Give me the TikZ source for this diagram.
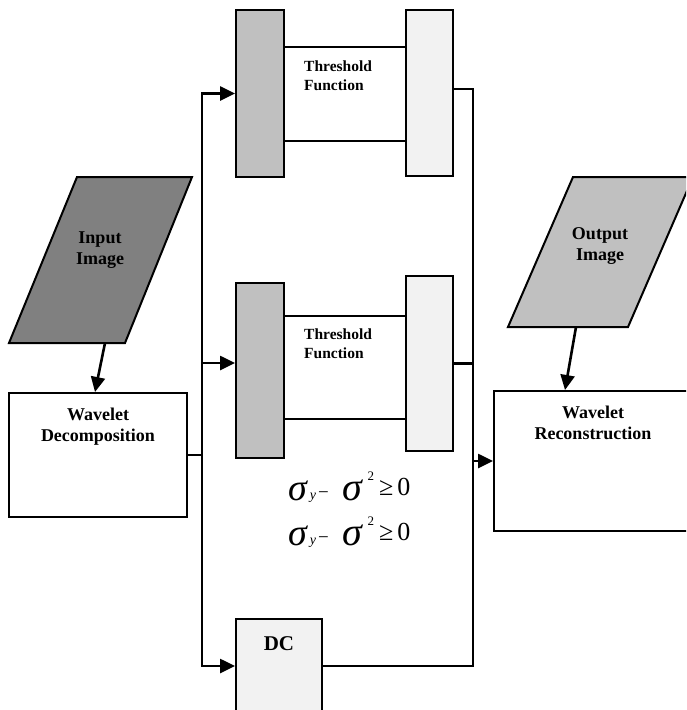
\documentclass[tikz,border=0pt]{standalone}
\usepackage{fontspec}
\setmainfont{Liberation Serif}
\usetikzlibrary{shapes, arrows.meta, positioning, calc}
\definecolor{InGray}{HTML}{808080}
\definecolor{MidGray}{HTML}{C0C0C0}
\definecolor{PaleGray}{HTML}{F2F2F2}
\newcommand{\bigfont}{\bfseries\fontsize{18}{21}\selectfont}
\newcommand{\smallfont}{\bfseries\fontsize{15.5}{19}\selectfont}
\newcommand{\sigcond}{%
  \raisebox{-5pt}{\itshape\fontsize{38}{38}\selectfont σ}\hspace{3pt}%
  \raisebox{-4pt}{\itshape\fontsize{14}{14}\selectfont y}\hspace{2pt}%
  \raisebox{-3pt}{\fontsize{19}{19}\selectfont −}\hspace{14pt}%
  \raisebox{-5pt}{\itshape\fontsize{40}{40}\selectfont σ}\hspace{5pt}%
  \raisebox{15pt}{\fontsize{13}{13}\selectfont 2}\hspace{5pt}%
  {\fontsize{26}{26}\selectfont ≥\hspace{4pt}0}}

\begin{document}
\begin{tikzpicture}[x=1pt, y=-1pt,
  box/.style={rectangle, draw, line width=2pt, inner sep=0pt, fill=white},
  slanted/.style={draw, line width=2pt},
  imgtxt/.style={font=\bigfont, align=center, inner sep=0pt},
  toptxt/.style={anchor=north, yshift=-16pt, inner sep=0pt, align=center, font=\bigfont},
  thtxt/.style={anchor=north west, xshift=21pt, yshift=-15pt, inner sep=0pt, align=left, font=\smallfont},
  link/.style={line width=2.6pt},
  arr/.style={line width=2.6pt, -{Triangle[length=15pt, width=14pt]}},
  ]
  \useasboundingbox (0,0) rectangle (686,710);
  \clip (0,0) rectangle (686,710);

  % input side
  \path[slanted, fill=InGray] (9,343) -- (77,177) -- (192,177) -- (125,343) -- cycle;
  \node (inimg) [imgtxt] at (100,250) {Input\\Image};
  \coordinate (inbot) at (105,343);
  \node (wdec) [box, minimum width=178pt, minimum height=124pt,
    label={[toptxt]north:Wavelet\\Decomposition}] at (98,455) {};

  % upper threshold branch
  \node (tl1) [box, fill=MidGray, minimum width=48pt, minimum height=167pt] at (260,93.5) {};
  \node (tm1) [box, minimum width=122pt, minimum height=94pt,
    label={[thtxt]north west:Threshold\\Function}] at (345,94) {};
  \node (tr1) [box, fill=PaleGray, minimum width=47pt, minimum height=166pt] at (429.5,93) {};

  % lower threshold branch
  \node (tl2) [box, fill=MidGray, minimum width=48pt, minimum height=175pt] at (260,370.5) {};
  \node (tm2) [box, minimum width=122pt, minimum height=103pt,
    label={[thtxt, yshift=1pt]north west:Threshold\\Function}] at (345,367.5) {};
  \node (tr2) [box, fill=PaleGray, minimum width=47pt, minimum height=175pt] at (429.5,363.5) {};

  \node (cond1) [anchor=base west, inner sep=0pt] at (288,495) {\sigcond};
  \node (cond2) [anchor=base west, inner sep=0pt] at (288,540) {\sigcond};

  \node (dc) [box, fill=PaleGray, minimum width=86pt, minimum height=94pt,
    label={[toptxt, yshift=-2pt, font=\bfseries\fontsize{21}{24}\selectfont]north:DC}] at (279,666) {};

  % output side
  \path[slanted, fill=MidGray] (508,327) -- (573,177) -- (693,177) -- (628,327) -- cycle;
  \node (outimg) [imgtxt] at (600,246) {Output\\Image};
  \coordinate (outbot) at (576,327);
  \node (wrec) [box, minimum width=198pt, minimum height=140pt,
    label={[toptxt]north:Wavelet\\Reconstruction}] at (593,461) {};

  \coordinate (split) at (202,455);
  \coordinate (join) at (473,461);

  \draw[arr] (inbot) -- ([xshift=-3pt]wdec.north);
  \draw[link] (wdec.east) -- (split);
  \draw[arr] (split) |- (tl1.west);
  \draw[arr] (split) |- ([yshift=7.5pt]tl2.west);
  \draw[arr] (split) |- (dc.west);
  \draw[link] ([yshift=4pt]tr1.east) -| (join);
  \draw[link] (tr2.east) -| (join);
  \draw[link] (dc.east) -| (join);
  \draw[arr] (join) -- (wrec.west);
  \draw[arr] (outbot) -- ([xshift=-28pt]wrec.north);
\end{tikzpicture}
\end{document}
